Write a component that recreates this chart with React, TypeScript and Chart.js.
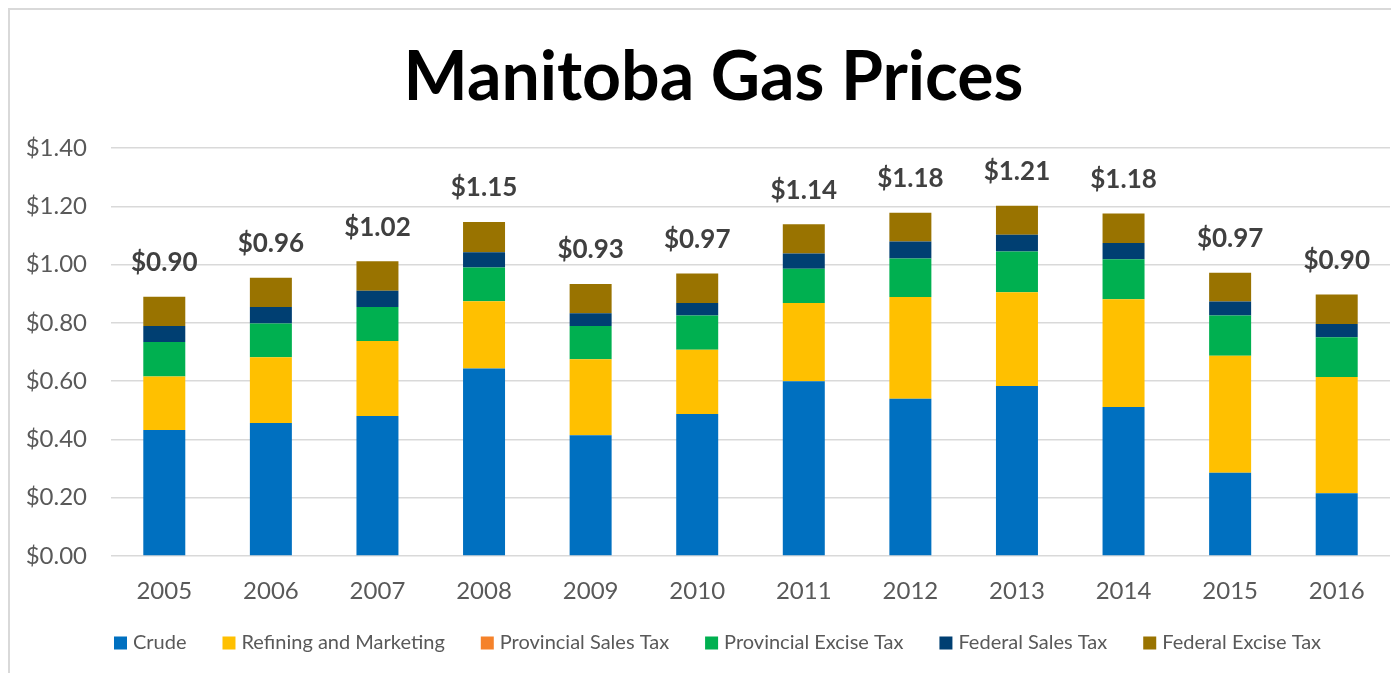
import React, { useEffect, useRef } from "react";
import { Chart, registerables } from "chart.js";

Chart.register(...registerables);

const years = ["2005", "2006", "2007", "2008", "2009", "2010", "2011", "2012", "2013", "2014", "2015", "2016"];
const crude = [0.432, 0.456, 0.48, 0.643, 0.414, 0.487, 0.6, 0.54, 0.583, 0.511, 0.286, 0.215];
const refining = [0.184, 0.226, 0.258, 0.231, 0.261, 0.221, 0.268, 0.349, 0.322, 0.37, 0.401, 0.399];
const provincialSalesTax = [0, 0, 0, 0, 0, 0, 0, 0, 0, 0, 0, 0];
const provincialExciseTax = [0.118, 0.116, 0.116, 0.116, 0.114, 0.117, 0.118, 0.132, 0.14, 0.137, 0.138, 0.137];
const federalSalesTax = [0.055, 0.056, 0.056, 0.052, 0.044, 0.043, 0.052, 0.058, 0.057, 0.056, 0.048, 0.045];
const federalExciseTax = [0.101, 0.101, 0.101, 0.104, 0.1, 0.101, 0.1, 0.099, 0.1, 0.101, 0.099, 0.101];
const totalLabels = ["$0.90", "$0.96", "$1.02", "$1.15", "$0.93", "$0.97", "$1.14", "$1.18", "$1.21", "$1.18", "$0.97", "$0.90"];
const seriesNames = ["Crude", "Refining and Marketing", "Provincial Sales Tax", "Provincial Excise Tax", "Federal Sales Tax", "Federal Excise Tax"];
const seriesColors = ["#0070C0", "#FFC000", "#F5822A", "#00B050", "#003F72", "#997300"];
const yTicks = [0, 0.2, 0.4, 0.6, 0.8, 1.0, 1.2, 1.4];
const chartTitle = "Manitoba Gas Prices";

const FONT = "Lato";

const titlePlugin = {
  id: "customTitle",
  afterDraw(chart: any) {
    const ctx = chart.ctx;
    ctx.save();
    ctx.font = `bold 68px ${FONT}`;
    ctx.fillStyle = "#000000";
    ctx.textAlign = "center";
    ctx.textBaseline = "middle";
    ctx.fillText(chartTitle, 703.5, 68);
    ctx.restore();
  },
};

const totalsPlugin = {
  id: "totalsPlugin",
  afterDatasetsDraw(chart: any) {
    const ctx = chart.ctx;
    const n = chart.data.datasets.length;
    const topMeta = chart.getDatasetMeta(n - 1);
    ctx.save();
    ctx.font = `bold 26px ${FONT}`;
    ctx.fillStyle = "#404040";
    ctx.textAlign = "center";
    ctx.textBaseline = "middle";
    topMeta.data.forEach((bar: any, i: number) => {
      ctx.fillText(totalLabels[i], bar.x, bar.y - 34);
    });
    ctx.restore();
  },
};

const legendPlugin = {
  id: "customLegend",
  afterDraw(chart: any) {
    const ctx = chart.ctx;
    ctx.save();
    ctx.font = `20px ${FONT}`;
    ctx.textBaseline = "middle";
    ctx.textAlign = "left";
    let x = 104;
    const y = 633;
    const box = 13;
    chart.data.datasets.forEach((ds: any) => {
      ctx.fillStyle = ds.backgroundColor;
      ctx.fillRect(x, y - box / 2, box, box);
      ctx.fillStyle = "#595959";
      ctx.fillText(ds.label, x + 19, y);
      x += 19 + ctx.measureText(ds.label).width + 36;
    });
    ctx.restore();
  },
};

export default function App() {
  const canvasRef = useRef<HTMLCanvasElement>(null);

  useEffect(() => {
    const seriesData = [crude, refining, provincialSalesTax, provincialExciseTax, federalSalesTax, federalExciseTax];
    const chart = new Chart(canvasRef.current!, {
      type: "bar",
      data: {
        labels: years,
        datasets: seriesData.map((d, i) => ({
          label: seriesNames[i],
          data: d,
          backgroundColor: seriesColors[i],
          borderWidth: 0,
          categoryPercentage: 1,
          barPercentage: 0.394,
        })),
      },
      options: {
        responsive: false,
        maintainAspectRatio: false,
        animation: false,
        layout: { padding: { left: 10, right: 9, top: 138, bottom: 47 } },
        plugins: {
          legend: { display: false },
          tooltip: { enabled: false },
          title: { display: false },
        },
        scales: {
          x: {
            stacked: true,
            grid: { display: false, drawTicks: false },
            border: { display: false },
            ticks: { color: "#595959", font: { family: FONT, size: 24, lineHeight: 1.2 }, padding: 20.6 },
          },
          y: {
            stacked: true,
            min: 0,
            max: 1.4,
            afterBuildTicks: (scale: any) => {
              scale.ticks = yTicks.map((v) => ({ value: v }));
            },
            afterFit: (scale: any) => {
              scale.width = 91;
            },
            grid: { color: "#d9d9d9", lineWidth: 1.5, drawTicks: false },
            border: { display: false },
            ticks: {
              color: "#595959",
              font: { family: FONT, size: 24 },
              padding: 24,
              callback: (v: any) => "$" + Number(v).toFixed(2),
            },
          },
        },
      },
      plugins: [titlePlugin, totalsPlugin, legendPlugin],
    });
    return () => chart.destroy();
  }, []);

  return (
    <div
      style={{
        width: 1391,
        height: 665,
        boxSizing: "border-box",
        borderLeft: "2px solid #d9d9d9",
        borderTop: "2px solid #d9d9d9",
        background: "#ffffff",
        overflow: "hidden",
      }}
    >
      <canvas ref={canvasRef} width={1389} height={663} style={{ display: "block" }} />
    </div>
  );
}
